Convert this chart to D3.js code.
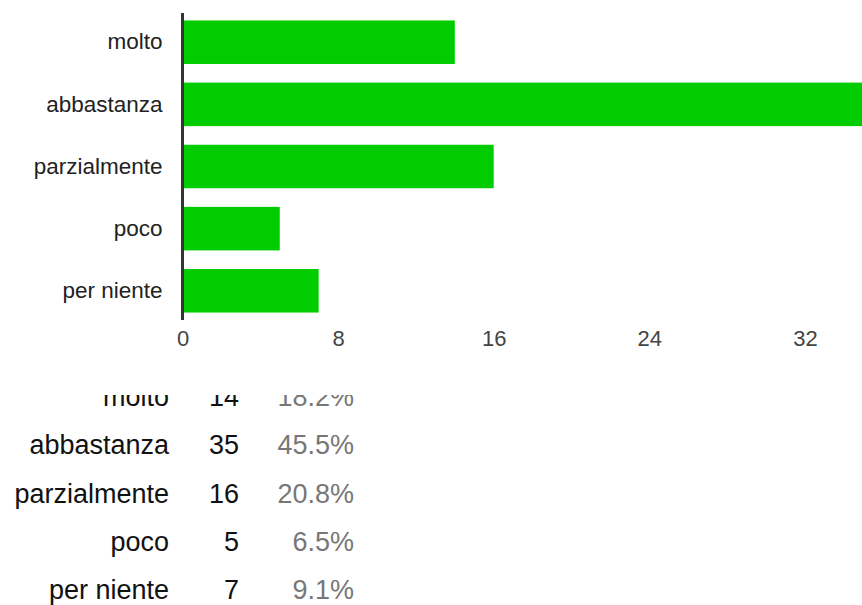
<!DOCTYPE html>
<html><head><meta charset="utf-8">
<script src="https://cdn.jsdelivr.net/npm/d3@7"></script>
<style>html,body{margin:0;padding:0;background:#fff;overflow:hidden}</style>
</head><body>
<svg id="c" width="862" height="605"></svg>
<script>
const categories = ["molto", "abbastanza", "parzialmente", "poco", "per niente"];
const counts = [14, 35, 16, 5, 7];
const percents = ["18.2%", "45.5%", "20.8%", "6.5%", "9.1%"];
const xTicks = [0, 8, 16, 24, 32];

const svg = d3.select("#c");
const font = "'Liberation Sans', Arial, sans-serif";

const x = d3.scaleLinear().domain([0, 40]).range([182.5, 182.5 + 40 * 19.45]);
const y = d3.scaleBand().domain(categories).range([13, 320]).paddingInner(0.3).paddingOuter(0.12);

svg.append("g").selectAll("rect").data(categories).join("rect")
  .attr("x", x(0))
  .attr("y", d => y(d))
  .attr("height", y.bandwidth())
  .attr("width", (d, i) => x(counts[i]) - x(0))
  .attr("fill", "#00cc00");

// y axis
const ya = svg.append("g").attr("transform", `translate(${x(0)},0)`)
  .call(d3.axisLeft(y).tickSize(0).tickPadding(20));
ya.select(".domain").attr("stroke", "#333").attr("stroke-width", 3).attr("d", "M0,13V320");
ya.selectAll("text").attr("font-family", font).attr("font-size", 22.5).attr("fill", "#222");

// x axis
const xa = svg.append("g").attr("transform", "translate(0,320)")
  .call(d3.axisBottom(x).tickValues(xTicks).tickSize(0).tickPadding(10));
xa.select(".domain").remove();
xa.selectAll("text").attr("font-family", font).attr("font-size", 22).attr("fill", "#444");

// table below
svg.append("defs").append("clipPath").attr("id", "tc")
  .append("rect").attr("x", 0).attr("y", 395).attr("width", 862).attr("height", 210);
const tbl = svg.append("g").attr("clip-path", "url(#tc)")
  .attr("font-family", font).attr("font-size", 27);
const rowY = d3.scalePoint().domain(categories).range([396.5, 590]);
const rows = tbl.selectAll("g").data(categories).join("g")
  .attr("transform", d => `translate(0,${rowY(d)})`);
rows.append("text").attr("x", 169).attr("text-anchor", "end").attr("dy", "0.35em")
  .attr("fill", "#111").text(d => d);
rows.append("text").attr("x", 239).attr("text-anchor", "end").attr("dy", "0.35em")
  .attr("fill", "#111").text((d, i) => counts[i]);
rows.append("text").attr("x", 354).attr("text-anchor", "end").attr("dy", "0.35em")
  .attr("fill", "#777").text((d, i) => percents[i]);
</script>
</body></html>
